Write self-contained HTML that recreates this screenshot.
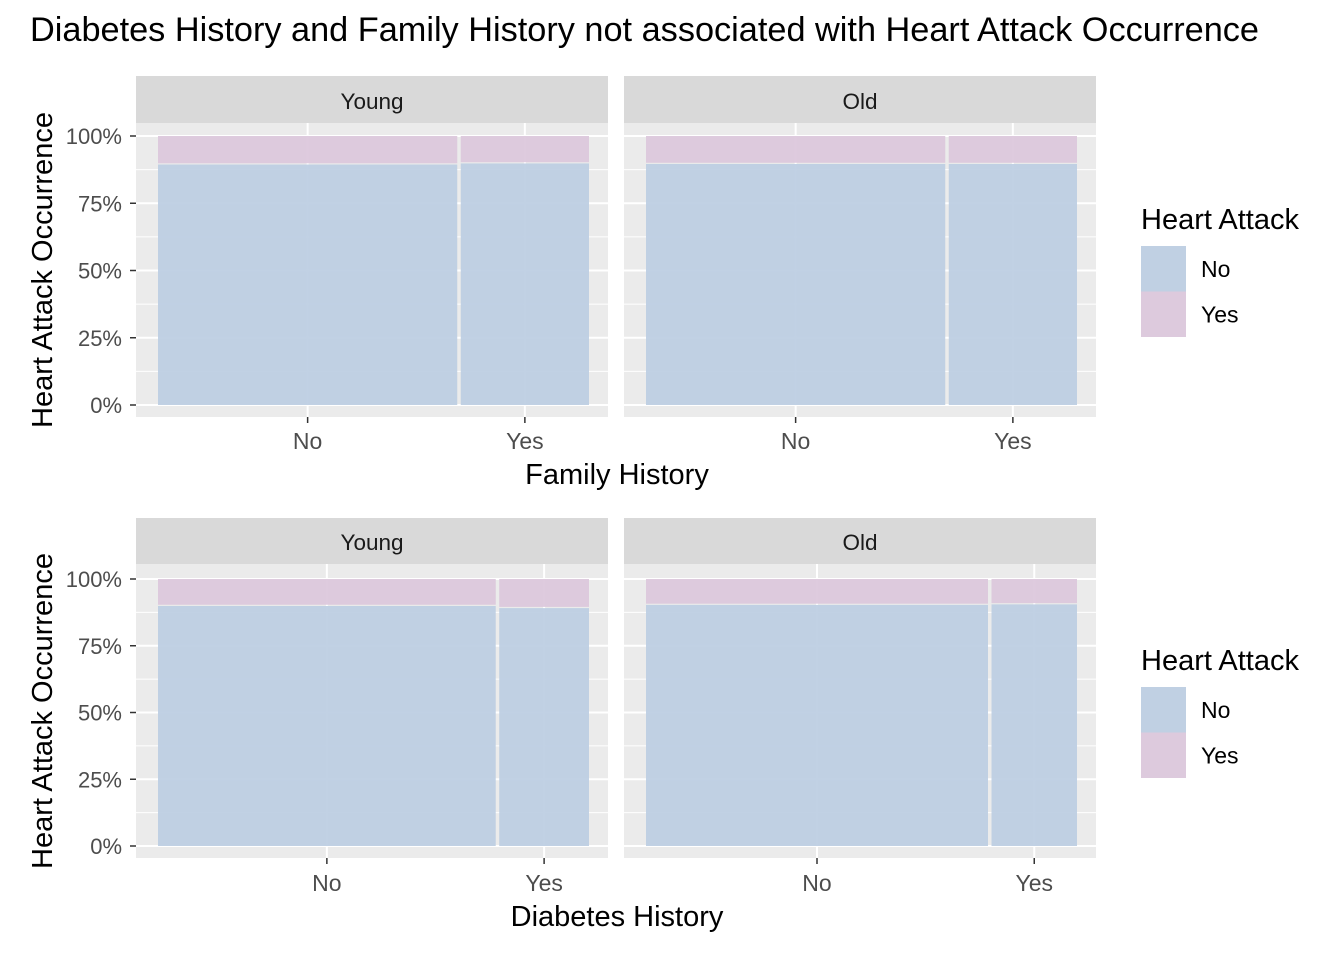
<!DOCTYPE html>
<html><head><meta charset="utf-8"><style>
html,body{margin:0;padding:0;background:#fff}
svg{display:block;font-family:"Liberation Sans",Arial,sans-serif}
</style></head><body>
<svg id="chart" width="1344" height="960" xmlns="http://www.w3.org/2000/svg">
<text x="30" y="41" font-size="34" fill="#000" textLength="1229" lengthAdjust="spacingAndGlyphs">Diabetes History and Family History not associated with Heart Attack Occurrence</text>
</svg>
<script>
// Data
const groups = ["Young", "Old"];
const xCategories = ["No", "Yes"];
const rowTitles = ["Family History", "Diabetes History"];
// share of "No" category width per panel [row][group]
const noWidthShare = [[0.70, 0.70], [0.79, 0.80]];
// proportion of Heart Attack = No per bar [row][group][category]
const heartNoProp = [[[0.894, 0.898], [0.896, 0.896]], [[0.899, 0.891], [0.903, 0.905]]];
const yTicks = [0, 0.25, 0.5, 0.75, 1];
const yTickLabels = ["0%", "25%", "50%", "75%", "100%"];
const legendLabels = ["No", "Yes"];

const NS = "http://www.w3.org/2000/svg";
const svg = document.getElementById("chart");
function mk(tag, attrs, parent) {
  const e = document.createElementNS(NS, tag);
  for (const k in attrs) e.setAttribute(k, attrs[k]);
  (parent || svg).appendChild(e);
  return e;
}
const BLUE = "#bccde2", PINK = "#dbc7dc";
const rows = [
  {stripTop: 76, panelTop: 123, panelBot: 417, y0: 405, y1: 136, xlabY: 449, titleY: 484, legTop: 246, legTitleY: 229},
  {stripTop: 518, panelTop: 564, panelBot: 858, y0: 846, y1: 579, xlabY: 891, titleY: 926, legTop: 687, legTitleY: 670}
];
const panelsX = [{l: 136, r: 608}, {l: 624, r: 1096}];

rows.forEach((R, ri) => {
  const yScale = v => R.y0 + (R.y1 - R.y0) * v;
  panelsX.forEach((P, gi) => {
    const g = mk("g", {});
    
    
    const strip = mk("rect", {x: P.l, y: R.stripTop, width: P.r - P.l, height: R.panelTop - R.stripTop, fill: "#d9d9d9"}, g);
    
    
    const st = mk("text", {x: (P.l + P.r) / 2, y: R.panelTop - 14, "text-anchor": "middle", "font-size": "22.5", fill: "#1a1a1a"}, g);
    st.textContent = groups[gi];
    
    
    const bg = mk("rect", {x: P.l, y: R.panelTop, width: P.r - P.l, height: R.panelBot - R.panelTop, fill: "#ebebeb"}, g);
    
    
    const bx0 = P.l + 22, bx1 = P.r - 19, gap = 3.5;
    const avail = bx1 - bx0 - gap;
    const wNo = avail * noWidthShare[ri][gi];
    const bars = [{x: bx0, w: wNo}, {x: bx0 + wNo + gap, w: avail - wNo}];
    for (let i = 0; i < yTicks.length - 1; i++) {
      const y = yScale((yTicks[i] + yTicks[i + 1]) / 2);
      mk("line", {x1: P.l, x2: P.r, y1: y, y2: y, stroke: "#fff", "stroke-width": 1}, g);
    }
    yTicks.forEach(t => {
      const y = yScale(t);
      mk("line", {x1: P.l, x2: P.r, y1: y, y2: y, stroke: "#fff", "stroke-width": 2}, g);
    });
    bars.forEach(b => {
      const cx = b.x + b.w / 2;
      mk("line", {x1: cx, x2: cx, y1: R.panelTop, y2: R.panelBot, stroke: "#fff", "stroke-width": 2}, g);
    });
    bars.forEach((b, ci) => {
      const p = heartNoProp[ri][gi][ci];
      const yb = yScale(p);
      const r1 = mk("rect", {x: b.x, y: yb, width: b.w, height: yScale(0) - yb, fill: BLUE, "fill-opacity": 0.93}, g);
      
      
      const r2 = mk("rect", {x: b.x, y: yScale(1), width: b.w, height: yb - yScale(1) - 1.2, fill: PINK, "fill-opacity": 0.93}, g);
      
      
      const cx = b.x + b.w / 2;
      mk("line", {x1: cx, x2: cx, y1: R.panelBot, y2: R.panelBot + 6, stroke: "#333", "stroke-width": 1.5}, g);
      const xl = mk("text", {x: cx, y: R.xlabY, "text-anchor": "middle", "font-size": "23", fill: "#4d4d4d"}, g);
      xl.textContent = xCategories[ci];
      
      
    });
  });
  yTicks.forEach((t, i) => {
    const y = yScale(t);
    mk("line", {x1: 130, x2: 136, y1: y, y2: y, stroke: "#333", "stroke-width": 1.5});
    const tl = mk("text", {x: 122, y: y + 8, "text-anchor": "end", "font-size": "22", fill: "#4d4d4d"});
    tl.textContent = yTickLabels[i];
    
    
  });
  const yc = (R.panelTop + R.panelBot) / 2;
  const yt = mk("text", {x: 0, y: 0, transform: "translate(52," + yc + ") rotate(-90)", "text-anchor": "middle", "font-size": "29", fill: "#000"});
  yt.textContent = "Heart Attack Occurrence";
  
  
  const xt = mk("text", {x: 617, y: R.titleY, "text-anchor": "middle", "font-size": "29", fill: "#000"});
  xt.textContent = rowTitles[ri];
  
  
  const lg = mk("g", {});
  
  
  const lt = mk("text", {x: 1141, y: R.legTitleY, "font-size": "29", fill: "#000"}, lg);
  lt.textContent = "Heart Attack";
  
  
  legendLabels.forEach((lab, i) => {
    const ky = R.legTop + i * 45.5;
    mk("rect", {x: 1141, y: ky, width: 45, height: 45.5, fill: "#f2f2f2"}, lg);
    const k = mk("rect", {x: 1141, y: ky, width: 45, height: 45.5, fill: i === 0 ? BLUE : PINK, "fill-opacity": 0.93}, lg);
    
    
    const tx = mk("text", {x: 1201, y: ky + 31, "font-size": "23", fill: "#000"}, lg);
    tx.textContent = lab;
    
    
  });
});
</script>
</body></html>
